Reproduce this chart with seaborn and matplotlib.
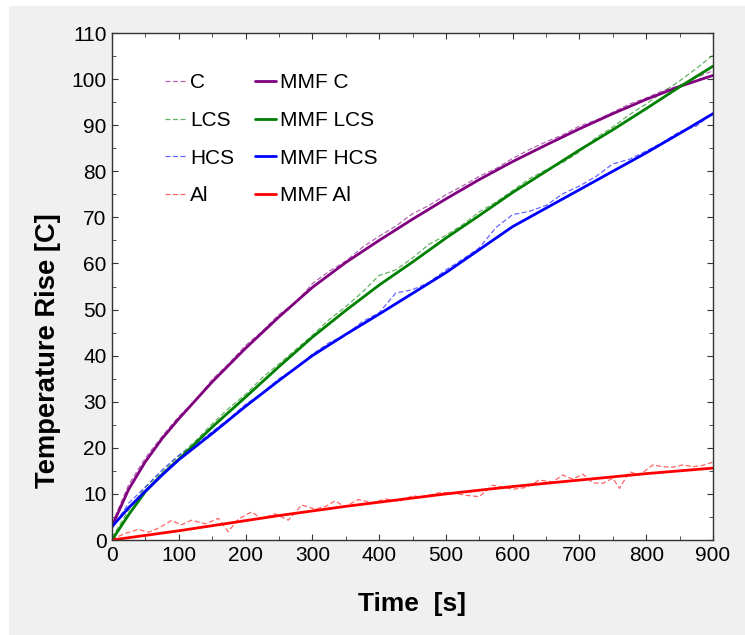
import matplotlib
matplotlib.use("Agg")
import matplotlib.pyplot as plt
from matplotlib.patches import Rectangle
from matplotlib.ticker import MultipleLocator
import seaborn as sns

# measured curves (dashed), sampled every 25 s
t_meas = [0, 25, 50, 75, 100, 125, 150, 175, 200, 225, 250, 275, 300, 325, 350, 375,
          400, 425, 450, 475, 500, 525, 550, 575, 600, 625, 650, 675, 700, 725, 750,
          775, 800, 825, 850, 875, 900]
c_meas = [3.5, 12, 17.8, 22.5, 26.8, 30.2, 34.8, 38.3, 42.2, 45.3, 48.9, 51.5, 55.6, 58.3,
          60.5, 63.5, 65.9, 68.1, 70.8, 72.6, 74.9, 76.8, 78.9, 80.6, 82.8, 84.7, 86.4,
          87.9, 89.8, 91.1, 92.8, 94.6, 95.9, 97.5, 98.6, 100.4, 101.8]
lcs_meas = [0.5, 6.5, 11.5, 14.8, 18.2, 21.5, 25.2, 28.6, 31.6, 35.2, 38.2, 41.3, 44.4, 47.8,
            50.6, 53.8, 57.4, 58.6, 61.2, 64.2, 66.1, 68.4, 71.2, 73.3, 75.8, 78.4, 80.3,
            81.9, 84.2, 87.3, 89.6, 92.3, 94.6, 97.2, 99.6, 102.3, 105.2]
hcs_meas = [2.5, 8, 11.5, 15.2, 18.4, 20.6, 23.5, 26.3, 29.4, 31.9, 35, 37.2, 40.3, 42.8,
            44.5, 47.4, 49.3, 53.6, 54.3, 55.9, 58.6, 60.9, 63.4, 67.8, 70.6, 71.3, 72.6,
            75.1, 76.8, 78.9, 81.6, 82.6, 84.4, 86.3, 88.6, 89.8, 92.7]

# Al measured curve is noisier, read at its own points
t_al = [0, 10, 19, 39, 55, 70, 89, 104, 119, 140, 159, 174, 189, 209, 224, 244, 264, 284,
        304, 320, 334, 349, 369, 389, 410, 430, 450, 464, 491, 510, 530, 550, 570, 600,
        620, 640, 660, 675, 690, 705, 720, 735, 750, 760, 775, 790, 810, 825, 840, 855,
        870, 885, 900]
al_meas = [0, 0.8, 1.4, 2.3, 1.7, 2.6, 4.2, 3.3, 4.3, 3.5, 4.7, 1.8, 4.5, 6.1, 4.6, 5.7,
           4.3, 7.6, 6.7, 7.3, 8.5, 7.2, 8.8, 8.1, 8.9, 8.4, 9.6, 9.3, 10.3, 10.2, 9.7, 9.4,
           11.9, 11.0, 11.4, 13.0, 12.6, 14.1, 13.2, 14.3, 12.4, 12.3, 13.4, 11.2, 14.8,
           14.1, 16.3, 15.9, 15.8, 16.3, 15.9, 16.2, 16.9]

# MMF fits (solid)
t_fit = [0, 25, 50, 75, 100, 150, 200, 250, 300, 350, 400, 450, 500, 550, 600, 650, 700,
         750, 800, 850, 900]
c_fit = [3.0, 11, 17, 22, 26.3, 34.3, 41.6, 48.4, 54.8, 60.2, 65, 69.6, 74, 78.2, 82.1,
         85.7, 89.2, 92.5, 95.6, 98.4, 100.8]
lcs_fit = [0, 5.5, 10.5, 14.2, 17.5, 24.5, 31, 37.6, 44, 49.8, 55.3, 60.3, 65.5, 70.4,
           75.4, 80, 84.6, 89, 93.6, 98.3, 102.8]
hcs_fit = [2.9, 7, 10.6, 14.1, 17.4, 23.1, 29, 34.6, 40, 44.6, 49, 53.5, 58, 63, 68, 72,
           76, 80, 84, 88.2, 92.5]
al_fit = [0, 0.5, 1.0, 1.5, 2.0, 3.1, 4.2, 5.3, 6.3, 7.3, 8.2, 9.1, 10, 10.8, 11.6, 12.3,
          13, 13.7, 14.4, 15, 15.6]

colors = ["#800080", "#008000", "#0000ff", "#ff0000"]
names = ["C", "LCS", "HCS", "Al"]

sns.set_style("ticks")
plt.rcParams["font.family"] = ["Liberation Sans", "DejaVu Sans"]
plt.rcParams["text.color"] = "black"

fig = plt.figure(figsize=(7.45, 6.35), dpi=100)
fig.patches.append(Rectangle((9 / 745, 0), 736 / 745, 629 / 635,
                             transform=fig.transFigure, color="#f0f0f0", zorder=-10))
ax = fig.add_axes([112 / 745, 1 - 540 / 635, 601 / 745, 507 / 635])
ax.set_facecolor("white")

meas = [(t_meas, c_meas), (t_meas, lcs_meas), (t_meas, hcs_meas), (t_al, al_meas)]
fits = [c_fit, lcs_fit, hcs_fit, al_fit]

for (tx, ty), col, nm in zip(meas, colors, names):
    sns.lineplot(x=tx, y=ty, ax=ax, color=col, linestyle=(0, (4, 2)), linewidth=0.9,
                 alpha=0.6, label=nm)
for fy, col, nm in zip(fits, colors, names):
    sns.lineplot(x=t_fit, y=fy, ax=ax, color=col, linewidth=2, label="MMF " + nm)

ax.set_xlim(0, 900)
ax.set_ylim(0, 110)
ax.xaxis.set_major_locator(MultipleLocator(100))
ax.xaxis.set_minor_locator(MultipleLocator(50))
ax.yaxis.set_major_locator(MultipleLocator(10))
ax.yaxis.set_minor_locator(MultipleLocator(5))
ax.tick_params(which="both", direction="in", top=True, right=True, labelsize=15,
               color="#333333", labelcolor="black", pad=4)
ax.tick_params(which="major", length=4)
ax.tick_params(which="minor", length=3)
for s in ax.spines.values():
    s.set_color("#333333")
    s.set_linewidth(1)

ax.set_xlabel("Time  [s]", fontsize=19, fontweight="bold", labelpad=20, color="black")
ax.set_ylabel("Temperature Rise [C]", fontsize=19.7, fontweight="bold", color="black")
ax.yaxis.set_label_coords(-0.085, 0.373)

handles, labels = ax.get_legend_handles_labels()
ax.legend(handles, labels, ncol=2, frameon=False, fontsize=15, loc="upper left",
          bbox_to_anchor=(0.057, 0.958), handlelength=1.0, handletextpad=0.2,
          columnspacing=1.0, labelspacing=0.9)

fig.savefig("out.png", dpi=100, facecolor="white")
